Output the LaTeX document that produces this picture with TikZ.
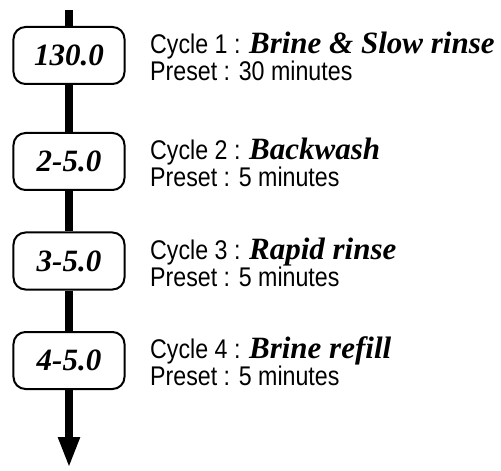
\documentclass[tikz,border=0pt]{standalone}
\usepackage{fontspec}
\usetikzlibrary{arrows.meta}
\newfontfamily\narrowsans[FakeStretch=0.86]{Liberation Sans}
\newfontfamily\timesfam{Liberation Serif}
\newcommand{\cyc}{\narrowsans\fontsize{27bp}{30bp}\selectfont}
\newcommand{\bi}{\timesfam\bfseries\itshape\fontsize{31bp}{34bp}\selectfont}
\begin{document}
\begin{tikzpicture}[x=1bp,y=-1bp,
  stepbox/.style={draw=black, line width=2bp, rounded corners=12bp, fill=white,
    minimum width=111bp, minimum height=57bp, inner sep=0pt, font=\bi},
  spine/.style={line width=8bp, black},
  lbl/.style={anchor=base west, inner sep=0pt, font=\cyc}]
\useasboundingbox (0,0) rectangle (501,471);
\coordinate (top) at (69,10);
\coordinate (tip) at (69,468);
\node[stepbox] (b1) at (69,55.5) {130.0};
\node[stepbox] (b2) at (69,161.5) {2-5.0};
\node[stepbox] (b3) at (69,261) {3-5.0};
\node[stepbox] (b4) at (69,360.5) {4-5.0};
\draw[spine] (top) -- (b1);
\draw[spine] (b1) -- (b2);
\draw[spine] (b2) -- (b3);
\draw[spine] (b3) -- (b4);
\draw[spine, -{Triangle[length=31bp,width=20bp]}] (b4) -- (tip);
\node[lbl] (c1) at (150,53.5) {Cycle 1 : {\bi Brine \& Slow rinse}};
\node[lbl] (p1) at (150,80.5) {Preset : 30 minutes};
\node[lbl] (c2) at (150,159.5) {Cycle 2 : {\bi Backwash}};
\node[lbl] (p2) at (150,186.5) {Preset : 5 minutes};
\node[lbl] (c3) at (150,259) {Cycle 3 : {\bi Rapid rinse}};
\node[lbl] (p3) at (150,286) {Preset : 5 minutes};
\node[lbl] (c4) at (150,358.5) {Cycle 4 : {\bi Brine refill}};
\node[lbl] (p4) at (150,385.5) {Preset : 5 minutes};
\end{tikzpicture}
\end{document}
